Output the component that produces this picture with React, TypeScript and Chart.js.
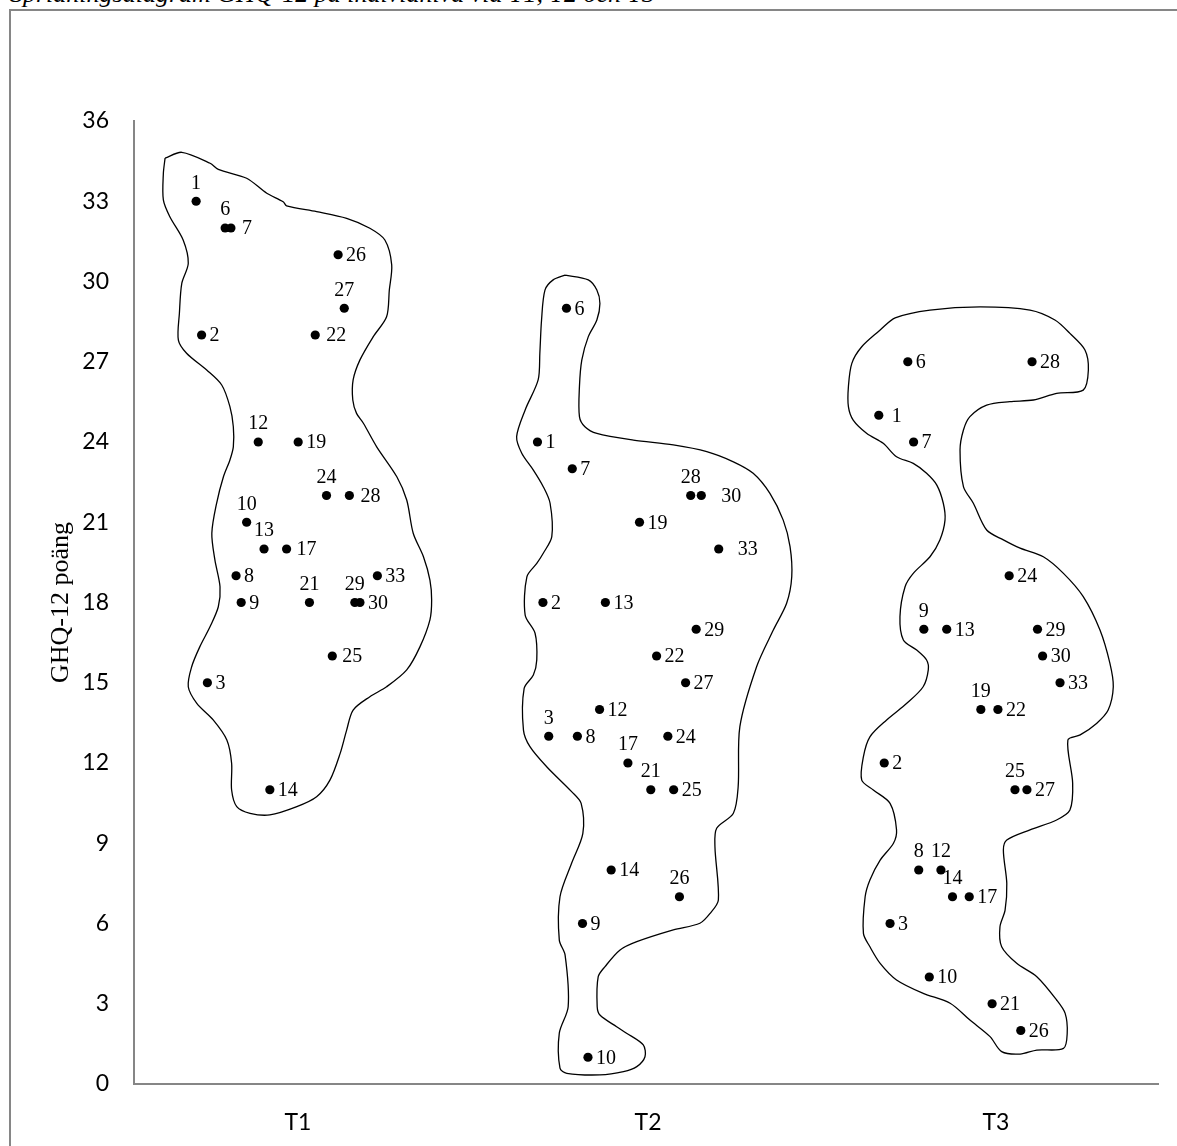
import React, { useEffect, useRef } from "react";
import { Chart, registerables } from "chart.js";

Chart.register(...registerables);

const TITLE = "Spridningsdiagram GHQ-12 på individnivå vid T1, T2 och T3";
const Y_TITLE = "GHQ-12 poäng";
const CATEGORIES = ["T1", "T2", "T3"];
const Y_MIN = 0;
const Y_MAX = 36;
const Y_STEP = 3;

// participant ids (same 23 people at each time point)
const PARTICIPANTS = [1, 2, 3, 6, 7, 8, 9, 10, 12, 13, 14, 17, 19, 21, 22, 24, 25, 26, 27, 28, 29, 30, 33];
// horizontal position of each participant inside its time-point band
const X_OFFSET = [0.182, 0.198, 0.215, 0.267, 0.284, 0.299, 0.314, 0.33, 0.364, 0.381, 0.398, 0.447, 0.481, 0.514, 0.531, 0.564, 0.581, 0.598, 0.616, 0.631, 0.647, 0.662, 0.713];
// GHQ-12 scores
const SCORES_T1 = [33, 28, 15, 32, 32, 19, 18, 21, 24, 20, 11, 20, 24, 18, 28, 22, 16, 31, 29, 22, 18, 18, 19];
const SCORES_T2 = [24, 18, 13, 29, 23, 13, 6, 1, 14, 18, 8, 12, 21, 11, 16, 13, 11, 7, 15, 22, 17, 22, 20];
const SCORES_T3 = [25, 12, 6, 27, 24, 8, 17, 4, 8, 17, 7, 7, 14, 3, 14, 19, 11, 2, 11, 27, 17, 16, 15];

// hand-drawn outlines around each group, in chart units [x, score]
const OUTLINE_T1: [number, number][] = [
  [0.091, 34.61], [0.14, 34.83], [0.223, 34.42], [0.247, 34.19], [0.33, 33.86], [0.389, 33.3], [0.437, 32.98],
  [0.447, 32.83], [0.535, 32.61], [0.623, 32.36], [0.691, 31.99], [0.735, 31.55], [0.755, 30.62], [0.748, 29.68],
  [0.74, 28.68], [0.701, 27.94], [0.662, 27.07], [0.642, 26.32], [0.641, 25.57], [0.652, 25.07], [0.672, 24.7],
  [0.711, 23.82], [0.77, 22.7], [0.799, 21.83], [0.818, 20.59], [0.848, 19.71], [0.867, 18.84], [0.872, 18.09],
  [0.867, 17.35], [0.838, 16.35], [0.799, 15.48], [0.74, 14.85], [0.691, 14.48], [0.642, 13.98], [0.623, 13.23],
  [0.604, 12.36], [0.574, 11.36], [0.535, 10.74], [0.477, 10.37], [0.398, 10.06], [0.34, 10.12], [0.301, 10.37],
  [0.286, 10.99], [0.286, 11.99], [0.272, 12.86], [0.232, 13.61], [0.184, 14.23], [0.159, 14.85], [0.169, 15.6],
  [0.193, 16.35], [0.223, 17.1], [0.247, 17.84], [0.252, 18.59], [0.237, 19.59], [0.228, 20.59], [0.242, 21.71],
  [0.262, 22.7], [0.281, 23.33], [0.291, 23.82], [0.291, 24.57], [0.281, 25.32], [0.257, 26.13], [0.213, 26.69],
  [0.154, 27.32], [0.13, 27.81], [0.133, 28.81], [0.14, 29.93], [0.159, 30.68], [0.144, 31.55], [0.105, 32.42],
  [0.086, 33.05], [0.086, 34.04],
];
const OUTLINE_T2: [number, number][] = [
  [1.263, 30.24], [1.331, 30.06], [1.356, 29.68], [1.365, 29.18], [1.356, 28.56], [1.331, 27.94], [1.312, 27.07],
  [1.305, 26.07], [1.305, 24.95], [1.321, 24.57], [1.356, 24.32], [1.463, 24.07], [1.58, 23.89], [1.678, 23.64],
  [1.756, 23.26], [1.814, 22.83], [1.863, 22.08], [1.902, 21.08], [1.922, 20.09], [1.927, 18.96], [1.912, 17.97],
  [1.873, 16.97], [1.824, 15.6], [1.775, 13.36], [1.77, 11.11], [1.756, 10.12], [1.707, 9.56], [1.702, 8.87],
  [1.712, 6.88], [1.688, 6.38], [1.658, 6.01], [1.58, 5.76], [1.473, 5.32], [1.424, 5.01], [1.38, 4.39],
  [1.36, 4.01], [1.357, 2.89], [1.365, 2.58], [1.414, 2.14], [1.443, 1.9], [1.492, 1.46], [1.497, 1.02],
  [1.473, 0.65], [1.434, 0.46], [1.365, 0.34], [1.268, 0.4], [1.248, 0.59], [1.246, 1.9], [1.272, 2.89],
  [1.263, 4.82], [1.246, 5.38], [1.248, 7.0], [1.282, 8.25], [1.315, 9.37], [1.31, 10.49], [1.282, 10.93],
  [1.209, 11.86], [1.16, 12.61], [1.141, 13.23], [1.143, 14.79], [1.17, 15.29], [1.18, 15.85], [1.175, 16.85],
  [1.146, 17.53], [1.151, 18.96], [1.18, 19.46], [1.199, 19.84], [1.224, 20.46], [1.219, 21.71], [1.199, 22.33],
  [1.17, 22.95], [1.136, 23.58], [1.121, 24.2], [1.146, 25.2], [1.184, 26.32], [1.189, 27.32], [1.194, 28.56],
  [1.204, 29.68], [1.228, 30.06],
];
const OUTLINE_T3: [number, number][] = [
  [2.186, 28.19], [2.23, 28.64], [2.332, 28.93], [2.479, 29.05], [2.625, 28.93], [2.698, 28.56], [2.742, 28.06],
  [2.786, 27.44], [2.796, 26.69], [2.781, 25.94], [2.703, 25.82], [2.635, 25.57], [2.566, 25.51], [2.498, 25.38],
  [2.449, 24.95], [2.43, 24.45], [2.42, 23.7], [2.43, 22.33], [2.459, 21.71], [2.498, 20.71], [2.547, 20.34],
  [2.596, 20.03], [2.664, 19.71], [2.723, 19.09], [2.781, 18.22], [2.83, 16.97], [2.859, 15.73], [2.869, 14.85],
  [2.854, 13.98], [2.82, 13.48], [2.772, 13.05], [2.736, 12.86], [2.75, 11.24], [2.742, 10.24], [2.703, 9.87],
  [2.625, 9.5], [2.557, 9.12], [2.547, 8.75], [2.557, 7.5], [2.552, 6.5], [2.537, 5.88], [2.542, 5.13],
  [2.586, 4.51], [2.645, 4.01], [2.703, 3.14], [2.728, 2.64], [2.734, 1.9], [2.723, 1.33], [2.645, 1.27],
  [2.596, 1.12], [2.542, 1.21], [2.508, 1.77], [2.449, 2.39], [2.391, 3.02], [2.312, 3.39], [2.234, 3.89],
  [2.186, 4.51], [2.156, 5.13], [2.137, 5.63], [2.142, 7.0], [2.156, 7.63], [2.186, 8.37], [2.225, 9.0],
  [2.234, 9.5], [2.215, 10.49], [2.166, 10.99], [2.132, 11.36], [2.137, 12.24], [2.156, 12.98], [2.205, 13.61],
  [2.264, 14.23], [2.312, 14.85], [2.327, 15.48], [2.322, 15.85], [2.293, 16.22], [2.254, 16.6], [2.244, 17.47],
  [2.259, 18.59], [2.283, 19.09], [2.332, 19.71], [2.361, 20.34], [2.376, 21.08], [2.371, 21.71], [2.352, 22.39],
  [2.322, 22.83], [2.283, 23.2], [2.234, 23.45], [2.195, 23.95], [2.147, 24.32], [2.107, 24.82], [2.093, 25.32],
  [2.093, 26.07], [2.103, 26.94], [2.132, 27.56],
];

// label placement (style): ids whose label sits above the dot, extra gap for right-side labels
const LABEL_ABOVE = [
  [1, 6, 10, 12, 13, 21, 24, 27, 29],
  [3, 17, 21, 26, 28],
  [8, 9, 12, 14, 19, 25],
];
const LABEL_EXTRA_GAP: Record<number, number>[] = [
  { 7: 3, 17: 2, 22: 3, 25: 2, 28: 3 },
  { 30: 12, 33: 11 },
  { 1: 5 },
];

// where the category captions sit on the x axis (axis config)
const CATEGORY_TICK_AT = [0.48, 1.506, 2.525];

const W = 1177;
const H = 1146;
const AXIS_GREY = "#868686";
const SERIF = "'Liberation Serif', 'Times New Roman', serif";
const SANS = "Lato, 'Open Sans', sans-serif";

const pointLabelPlugin = {
  id: "pointLabels",
  afterDatasetsDraw(chart: any) {
    const ctx = chart.ctx;
    ctx.save();
    ctx.fillStyle = "#000";
    ctx.font = `20px ${SERIF}`;
    chart.data.datasets.forEach((ds: any, di: number) => {
      if (ds.groupIndex === undefined) return;
      const g = ds.groupIndex;
      const meta = chart.getDatasetMeta(di);
      meta.data.forEach((el: any, i: number) => {
        const id = PARTICIPANTS[i];
        const label = String(id);
        if (LABEL_ABOVE[g].includes(id)) {
          ctx.textAlign = "center";
          ctx.textBaseline = "middle";
          ctx.fillText(label, el.x, el.y - 18);
        } else {
          const gap = 8 + (LABEL_EXTRA_GAP[g][id] || 0);
          ctx.textAlign = "left";
          ctx.textBaseline = "middle";
          ctx.fillText(label, el.x + gap, el.y + 1);
        }
      });
    });
    ctx.restore();
  },
};

export default function App() {
  const ref = useRef<HTMLCanvasElement | null>(null);

  useEffect(() => {
    if (!ref.current) return;
    const groups = [SCORES_T1, SCORES_T2, SCORES_T3];
    const outlines = [OUTLINE_T1, OUTLINE_T2, OUTLINE_T3];
    const outlineSets = outlines.map((o, g) => ({
      label: `outline ${CATEGORIES[g]}`,
      data: [...o, o[0]].map(([x, y]) => ({ x, y })),
      showLine: true,
      borderColor: "#000",
      borderWidth: 1.3,
      tension: 0.3,
      pointRadius: 0,
      pointHoverRadius: 0,
      fill: false,
    }));
    const pointSets = groups.map((scores, g) => ({
      label: CATEGORIES[g],
      groupIndex: g,
      data: scores.map((s, i) => ({ x: g + X_OFFSET[i], y: s })),
      showLine: false,
      pointRadius: 4.6,
      pointBackgroundColor: "#000",
      pointBorderWidth: 0,
      pointBorderColor: "#000",
    }));

    const chart = new Chart(ref.current, {
      type: "scatter",
      data: { datasets: [...outlineSets, ...pointSets] as any },
      options: {
        responsive: false,
        animation: false,
        devicePixelRatio: 1,
        layout: { padding: { top: 121, right: 19, bottom: 0, left: 0 } },
        plugins: { legend: { display: false }, tooltip: { enabled: false }, title: { display: false } },
        scales: {
          x: {
            type: "linear",
            min: 0,
            max: CATEGORIES.length,
            grid: { display: false, drawTicks: false },
            border: { display: true, color: AXIS_GREY, width: 2 },
            afterBuildTicks: (scale: any) => {
              scale.ticks = CATEGORY_TICK_AT.map((v) => ({ value: v }));
            },
            afterFit: (scale: any) => {
              scale.height = 62;
            },
            ticks: {
              padding: 25,
              color: "#000",
              font: { family: SANS, size: 23 },
              callback: (v: any) => CATEGORIES[Math.floor(Number(v))] ?? "",
            },
          },
          y: {
            type: "linear",
            min: Y_MIN,
            max: Y_MAX,
            grid: { display: false, drawTicks: false },
            border: { display: true, color: AXIS_GREY, width: 2 },
            afterFit: (scale: any) => {
              scale.width = 134;
            },
            ticks: {
              stepSize: Y_STEP,
              padding: 25,
              color: "#000",
              font: { family: SANS, size: 23 },
            },
            title: {
              display: true,
              text: Y_TITLE,
              color: "#000",
              font: { family: SERIF, size: 26 },
              padding: { top: 46, bottom: 0 },
            },
          },
        },
      },
      plugins: [pointLabelPlugin],
    });
    return () => chart.destroy();
  }, []);

  return (
    <div style={{ position: "fixed", left: 0, top: 0, width: W, height: H, overflow: "hidden", background: "#fff" }}>
      <div
        style={{
          position: "absolute",
          left: 10,
          top: -19,
          fontFamily: SERIF,
          fontStyle: "italic",
          fontSize: 26,
          lineHeight: "26px",
          whiteSpace: "nowrap",
          color: "#000",
        }}
      >
        {TITLE}
      </div>
      <div
        style={{
          position: "absolute",
          left: 9,
          top: 9,
          width: 1400,
          height: 1400,
          border: `2px solid ${AXIS_GREY}`,
          boxSizing: "border-box",
        }}
      />
      <canvas ref={ref} width={W} height={H} style={{ position: "absolute", left: 0, top: 0, width: W, height: H }} />
    </div>
  );
}
